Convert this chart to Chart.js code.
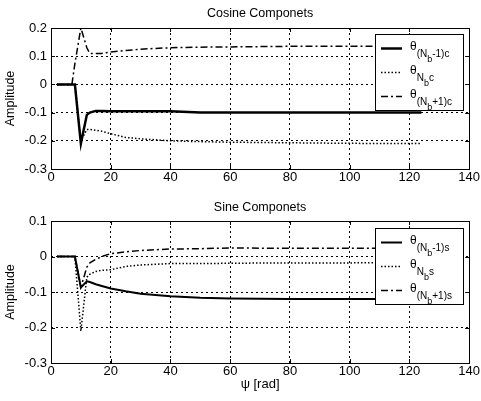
<!DOCTYPE html>
<html>
<head>
<meta charset="utf-8">
<script src="https://cdn.jsdelivr.net/npm/chart.js"></script>
<style>
body{margin:0;background:#fff;}
#wrap{position:relative;width:481px;height:401px;}
canvas{position:absolute;left:0;}
</style>
</head>
<body>
<div id="wrap">
<canvas id="cosChart" width="481" height="195" style="top:0"></canvas>
<canvas id="sinChart" width="481" height="206" style="top:195px"></canvas>
</div>
<script>
// sample points (psi, rad)
const psi = [2, 7, 8, 10, 12, 13, 15, 17, 20, 25, 30, 40, 50, 60, 80, 100, 124];

// cosine components
const cosMinus = [0, 0, 0, -0.21, -0.108, -0.1, -0.094, -0.094, -0.095, -0.095, -0.095, -0.095, -0.1, -0.1, -0.1, -0.1, -0.1];
const cosNb    = [0, 0, 0, -0.2, -0.16, -0.16, -0.163, -0.166, -0.175, -0.188, -0.193, -0.2, -0.203, -0.205, -0.207, -0.209, -0.21];
const cosPlus  = [0, 0, 0.074, 0.2, 0.13, 0.11, 0.11, 0.11, 0.115, 0.12, 0.125, 0.13, 0.132, 0.133, 0.135, 0.135, 0.135];

// sine components
const sinMinus = [0, 0, 0, -0.087, -0.07, -0.072, -0.078, -0.083, -0.09, -0.098, -0.105, -0.112, -0.116, -0.118, -0.12, -0.12, -0.12];
const sinNb    = [0, 0, 0, -0.21, -0.058, -0.05, -0.042, -0.039, -0.037, -0.028, -0.024, -0.02, -0.02, -0.019, -0.018, -0.018, -0.017];
const sinPlus  = [0, 0, 0, -0.087, -0.03, -0.018, -0.008, 0, 0.008, 0.013, 0.017, 0.021, 0.022, 0.024, 0.023, 0.023, 0.023];

const xTicks = [0, 140, 20];          // min, max, step
const cosY = [-0.3, 0.2];
const sinY = [-0.3, 0.1];

const cosLabels = [["(N","b","-1)c"], ["N","b","c"], ["(N","b","+1)c"]];
const sinLabels = [["(N","b","-1)s"], ["N","b","s"], ["(N","b","+1)s"]];

const FONT = "'Liberation Sans', Arial, sans-serif";

const lineStyles = [
  {borderWidth:2.5, borderDash:[]},
  {borderWidth:1.5, borderDash:[1.5,2]},
  {borderWidth:1.5, borderDash:[7,3,2,3]}
];

function makeSet(values, i, label, width){
  return {
    label: label,
    data: psi.map((x,k)=>({x:x, y:values[k]})),
    borderColor:"#000",
    borderWidth: i==0 ? width : lineStyles[i].borderWidth,
    borderDash: lineStyles[i].borderDash,
    pointRadius:0,
    tension:0,
    fill:false
  };
}

// box + inward ticks
const framePlugin = {
  id:"frame",
  afterDatasetsDraw(chart){
    const a = chart.chartArea, c = chart.ctx;
    c.save();
    c.strokeStyle = "#000";
    c.lineWidth = 1;
    c.setLineDash([]);
    c.strokeRect(Math.round(a.left)+0.5, Math.round(a.top)+0.5, Math.round(a.right-a.left), Math.round(a.bottom-a.top));
    c.beginPath();
    chart.scales.x.ticks.forEach(t=>{
      const px = Math.round(chart.scales.x.getPixelForValue(t.value))+0.5;
      c.moveTo(px, a.bottom); c.lineTo(px, a.bottom-4);
      c.moveTo(px, a.top); c.lineTo(px, a.top+4);
    });
    chart.scales.y.ticks.forEach(t=>{
      const py = Math.round(chart.scales.y.getPixelForValue(t.value))+0.5;
      c.moveTo(a.left, py); c.lineTo(a.left+4, py);
      c.moveTo(a.right, py); c.lineTo(a.right-4, py);
    });
    c.stroke();
    c.restore();
  }
};

// matlab style legend with subscripts
const legendPlugin = {
  id:"thetaLegend",
  afterDraw(chart, args, opts){
    const a = chart.chartArea, c = chart.ctx;
    const w = 88, h = 76;
    const bx = Math.round(a.right - 6 - w), by = Math.round(a.top + opts.top);
    c.save();
    c.fillStyle = "#fff";
    c.fillRect(bx, by, w, h);
    c.strokeStyle = "#000";
    c.lineWidth = 1;
    c.setLineDash([]);
    c.strokeRect(bx+0.5, by+0.5, w, h);
    chart.data.datasets.forEach((ds,i)=>{
      const ry = by + 14 + i*24;
      c.beginPath();
      c.lineWidth = ds.borderWidth;
      c.setLineDash(ds.borderDash);
      c.moveTo(bx+6, ry+0.5); c.lineTo(bx+27, ry+0.5);
      c.stroke();
      c.setLineDash([]);
      c.fillStyle = "#000";
      c.textBaseline = "alphabetic";
      let x = bx + 35;
      c.font = "12px " + FONT;
      c.fillText("\u03b8", x, ry+2);
      x += c.measureText("\u03b8").width;
      const p = opts.labels[i];
      c.font = "10px " + FONT;
      c.fillText(p[0], x, ry+9);
      x += c.measureText(p[0]).width;
      c.font = "9px " + FONT;
      c.fillText(p[1], x, ry+14);
      x += c.measureText(p[1]).width;
      c.font = "10px " + FONT;
      c.fillText(p[2], x, ry+9);
    });
    c.restore();
  }
};

function makeChart(id, title, yRange, sets, labels, opt){
  return new Chart(document.getElementById(id), {
    type:"line",
    data:{datasets:sets},
    plugins:[framePlugin, legendPlugin],
    options:{
      responsive:false,
      animation:false,
      layout:{padding:{left:0, right:11, top:0, bottom:0}},
      plugins:{
        legend:{display:false},
        tooltip:{enabled:false},
        title:{display:true, text:title, fullSize:false, color:"#000",
          font:{family:FONT, size:12.5, weight:"normal"},
          padding:{top:opt.titlePad, bottom:opt.titlePad}},
        thetaLegend:{labels:labels, top:opt.legendTop}
      },
      scales:{
        x:{
          type:"linear", min:xTicks[0], max:xTicks[1],
          ticks:{stepSize:xTicks[2], color:"#000", padding:1, maxRotation:0,
            font:{family:FONT, size:13}},
          grid:{color:"#000", lineWidth:1, drawTicks:false},
          border:{display:false, dash:[2,3]},
          title:{display:opt.xTitle, text:"\u03c8 [rad]", color:"#000",
            font:{family:FONT, size:13}, padding:{top:0, bottom:opt.xTitlePad}},
          afterFit(s){ s.height = opt.xHeight; }
        },
        y:{
          min:yRange[0], max:yRange[1],
          ticks:{stepSize:0.1, color:"#000", padding:4,
            font:{family:FONT, size:13},
            callback:v=>String(Math.round(v*10)/10)},
          grid:{color:"#000", lineWidth:1, drawTicks:false},
          border:{display:false, dash:[2,3]},
          title:{display:true, text:"Amplitude", color:"#000",
            font:{family:FONT, size:12.5}, padding:{top:3, bottom:0}},
          afterFit(s){ s.width = 51; }
        }
      }
    }
  });
}

makeChart("cosChart", "Cosine Componets", cosY, [
  makeSet(cosMinus, 0, "minus", 2.5),
  makeSet(cosNb, 1, "nb", 2.5),
  makeSet(cosPlus, 2, "plus", 2.5)
], cosLabels, {titlePad:6.5, legendTop:6, xHeight:26, xTitle:false, xTitlePad:0});

makeChart("sinChart", "Sine Componets", sinY, [
  makeSet(sinMinus, 0, "minus", 2),
  makeSet(sinNb, 1, "nb", 2),
  makeSet(sinPlus, 2, "plus", 2)
], sinLabels, {titlePad:5.5, legendTop:7, xHeight:38, xTitle:true, xTitlePad:9});
</script>
</body>
</html>
